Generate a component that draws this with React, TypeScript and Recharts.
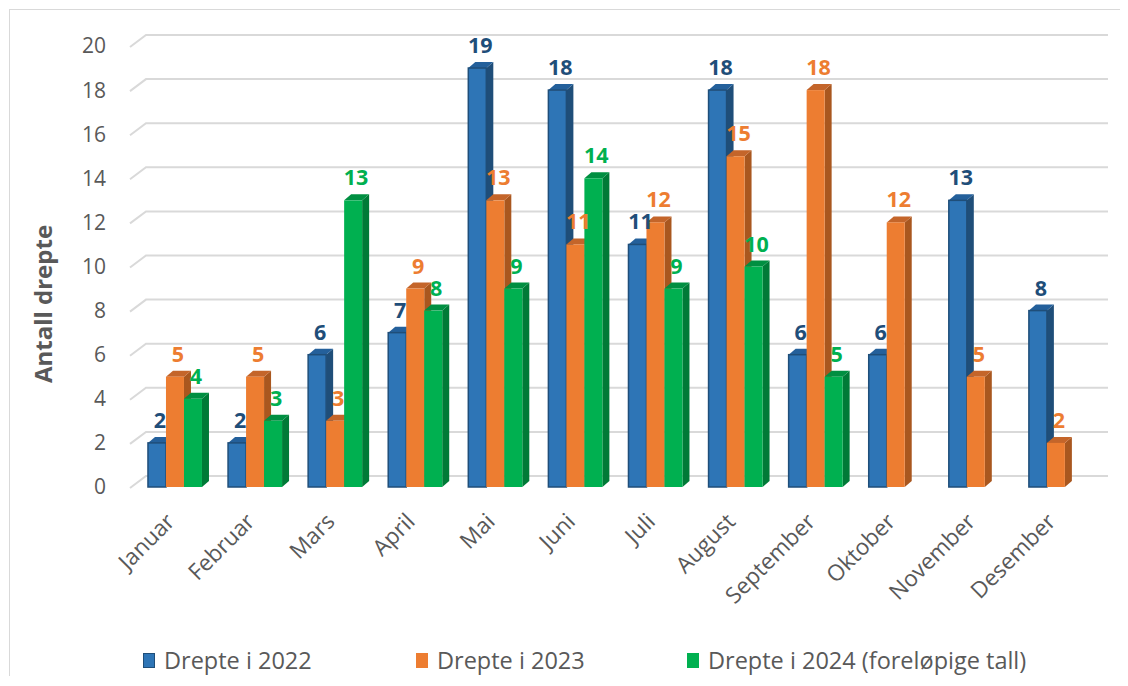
import React from 'react';
import { BarChart, Bar, XAxis, YAxis, CartesianGrid, Legend, LabelList } from 'recharts';

const months = ['Januar', 'Februar', 'Mars', 'April', 'Mai', 'Juni', 'Juli', 'August', 'September', 'Oktober', 'November', 'Desember'];
const killed2022 = [2, 2, 6, 7, 19, 18, 11, 18, 6, 6, 13, 8];
const killed2023 = [5, 5, 3, 9, 13, 11, 12, 15, 18, 12, 5, 2];
const killed2024: (number | null)[] = [4, 3, 13, 8, 9, 14, 9, 10, 5, null, null, null];
const yTicks = [0, 2, 4, 6, 8, 10, 12, 14, 16, 18, 20];

const seriesNames = ['Drepte i 2022', 'Drepte i 2023', 'Drepte i 2024 (foreløpige tall)'];

const data = months.map((m, i) => ({
  month: m,
  y2022: killed2022[i],
  y2023: killed2023[i],
  y2024: killed2024[i],
}));

const FONT = '"Open Sans", sans-serif';
const TEXT = '#595959';
const DX = 7;
const DY = 6;

const palette = {
  y2022: { front: '#2E75B6', side: '#1F4E79', top: '#24609B', stroke: '#1F4E79', label: '#1F4E79' },
  y2023: { front: '#ED7D31', side: '#A9571F', top: '#C4652A', stroke: 'none', label: '#ED7D31' },
  y2024: { front: '#00B050', side: '#007A37', top: '#008F41', stroke: 'none', label: '#00B050' },
};

const makeShape = (c: any) => (props: any) => {
  const { x, y, width, height, value } = props;
  if (value === null || value === undefined || !height || height <= 0) return <g />;
  return (
    <g>
      <polygon
        points={`${x + width},${y} ${x + width + DX},${y - DY} ${x + width + DX},${y + height - DY} ${x + width},${y + height}`}
        fill={c.side}
      />
      <polygon
        points={`${x},${y} ${x + DX},${y - DY} ${x + width + DX},${y - DY} ${x + width},${y}`}
        fill={c.top}
      />
      <rect x={x} y={y} width={width} height={height} fill={c.front} stroke={c.stroke} strokeWidth={c.stroke === 'none' ? 0 : 1.5} />
    </g>
  );
};

const makeLabel = (color: string) => (props: any) => {
  const { x, y, width, value } = props;
  if (value === null || value === undefined) return null;
  return (
    <text x={x + width / 2 + 3} y={y - 15} textAnchor="middle" fill={color} fontFamily={FONT} fontWeight={700} fontSize={21.5}>
      {value}
    </text>
  );
};

const gridLine = (props: any) => {
  const { x1, x2, y1, key } = props;
  return (
    <polyline
      key={key}
      points={`${x1 - 5},${y1 + 1} ${x1 + 11},${y1 - 11} ${x2 + 12},${y1 - 11}`}
      fill="none"
      stroke="#D9D9D9"
      strokeWidth={2}
    />
  );
};

const XTick = (props: any) => {
  const { x, y, payload } = props;
  const tx = x + 1;
  const ty = y + 36;
  return (
    <text x={tx} y={ty} textAnchor="end" transform={`rotate(-45, ${tx}, ${ty})`} fill={TEXT} fontFamily={FONT} fontSize={22.5}>
      {payload.value}
    </text>
  );
};

const YTitle = () => (
  <text x={32} y={294} textAnchor="middle" dominantBaseline="central" transform="rotate(-90, 32, 294)" fill={TEXT} fontFamily={FONT} fontWeight={700} fontSize={24}>
    Antall drepte
  </text>
);

const legendItems = [
  { name: seriesNames[0], color: palette.y2022.front, border: palette.y2022.stroke, left: 133 },
  { name: seriesNames[1], color: palette.y2023.front, border: 'none', left: 406 },
  { name: seriesNames[2], color: palette.y2024.front, border: 'none', left: 677 },
];

const LegendContent = () => (
  <div style={{ position: 'relative', height: 24, width: 1117 }}>
    {legendItems.map((it) => (
      <div key={it.name} style={{ position: 'absolute', left: it.left, top: 0, display: 'flex', alignItems: 'center', height: 24 }}>
        <span
          style={{
            display: 'inline-block',
            width: 12,
            height: 15,
            background: it.color,
            boxSizing: 'border-box',
            border: it.border === 'none' ? 'none' : `1.5px solid ${it.border}`,
            marginRight: 9,
          }}
        />
        <span style={{ fontFamily: FONT, fontSize: 23.5, color: TEXT, lineHeight: '24px', whiteSpace: 'nowrap' }}>{it.name}</span>
      </div>
    ))}
  </div>
);

export default function App() {
  return (
    <div
      style={{
        position: 'relative',
        left: 1,
        top: 1,
        width: 1118,
        height: 668,
        boxSizing: 'border-box',
        borderTop: '1px solid #D9D9D9',
        borderLeft: '1px solid #D9D9D9',
        background: '#fff',
      }}
    >
      <BarChart
        width={1117}
        height={667}
        data={data}
        margin={{ top: 36, right: 31, left: 0, bottom: 80 }}
        barCategoryGap="16.2%"
        barGap={0}
      >
        <CartesianGrid horizontal={gridLine} vertical={false} />
        <XAxis dataKey="month" interval={0} tick={<XTick />} tickLine={false} axisLine={false} tickSize={0} tickMargin={0} height={110} />
        <YAxis
          type="number"
          domain={[0, 20]}
          ticks={yTicks}
          width={125}
          axisLine={false}
          tickLine={false}
          tickSize={21}
          tickMargin={8}
          tick={{ fill: TEXT, fontFamily: FONT, fontSize: 21 }}
          label={<YTitle />}
        />
        <Legend layout="horizontal" verticalAlign="middle" align="center" content={<LegendContent />} wrapperStyle={{ top: 638, left: 0, width: 1117, height: 24 }} />
        <Bar dataKey="y2022" name={seriesNames[0]} fill={palette.y2022.front} shape={makeShape(palette.y2022)} isAnimationActive={false}>
          <LabelList dataKey="y2022" content={makeLabel(palette.y2022.label)} />
        </Bar>
        <Bar dataKey="y2023" name={seriesNames[1]} fill={palette.y2023.front} shape={makeShape(palette.y2023)} isAnimationActive={false}>
          <LabelList dataKey="y2023" content={makeLabel(palette.y2023.label)} />
        </Bar>
        <Bar dataKey="y2024" name={seriesNames[2]} fill={palette.y2024.front} shape={makeShape(palette.y2024)} isAnimationActive={false}>
          <LabelList dataKey="y2024" content={makeLabel(palette.y2024.label)} />
        </Bar>
      </BarChart>
    </div>
  );
}
